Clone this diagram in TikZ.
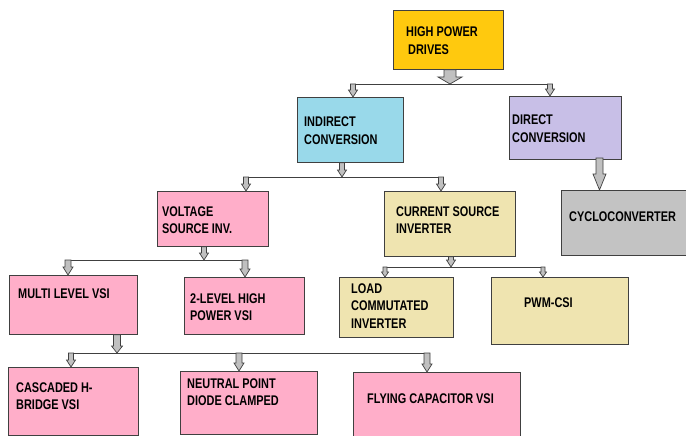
\documentclass[tikz,border=0pt]{standalone}
\usepackage{fontspec}
\newfontfamily\labfont[FakeStretch=0.78]{Liberation Sans}
\usetikzlibrary{calc}
\definecolor{cgold}{HTML}{FFC90E}
\definecolor{cblue}{HTML}{99D9EA}
\definecolor{clav}{HTML}{C8BFE7}
\definecolor{cgray}{HTML}{C3C3C3}
\definecolor{cpink}{HTML}{FFAEC9}
\definecolor{ctan}{HTML}{EFE4B0}
\definecolor{cline}{HTML}{404040}
\definecolor{carrow}{HTML}{C0C0C0}
\tikzset{
  boxnode/.style={draw=cline, line width=0.8pt, rectangle, anchor=north west, inner sep=0pt},
  txt/.style={anchor=base west, inner sep=0pt, align=left, text=black,
    font=\labfont\bfseries\fontsize{14}{17.5}\selectfont},
  arrowshape/.style={fill=carrow, draw=cline, line width=0.7pt, line join=miter},
  busline/.style={draw=cline, line width=0.8pt},
}
\newcommand\blockarrow[5]{%
  \path[arrowshape] let \p1=(#1), \p2=(#2) in
    (\x1-#3,\y1) -- (\x1-#3,\y2+#5) -- (\x1-#4,\y2+#5) -- (\x1,\y2) --
    (\x1+#4,\y2+#5) -- (\x1+#3,\y2+#5) -- (\x1+#3,\y1) -- cycle;}
\begin{document}
\begin{tikzpicture}[x=1pt,y=-1pt]
\useasboundingbox (0,0) rectangle (686,436);
% boxes
\node[boxnode, fill=cgold, minimum width=110pt, minimum height=59pt] (hpd) at (393,10) {};
\node[boxnode, fill=cblue, minimum width=106pt, minimum height=65pt] (ind) at (297,97) {};
\node[boxnode, fill=clav, minimum width=112pt, minimum height=63pt] (dir) at (509,96) {};
\node[boxnode, fill=cgray, minimum width=125pt, minimum height=65pt] (cyc) at (561,190) {};
\node[boxnode, fill=cpink, minimum width=111pt, minimum height=55pt] (vsi) at (157,191) {};
\node[boxnode, fill=ctan, minimum width=131pt, minimum height=65pt] (csi) at (384,191) {};
\node[boxnode, fill=cpink, minimum width=128pt, minimum height=59pt] (mlv) at (9,275) {};
\node[boxnode, fill=cpink, minimum width=120pt, minimum height=57pt] (tlv) at (184,277) {};
\node[boxnode, fill=ctan, minimum width=114pt, minimum height=60pt] (lci) at (339,277) {};
\node[boxnode, fill=ctan, minimum width=137pt, minimum height=67pt] (pwm) at (491,277) {};
\node[boxnode, fill=cpink, minimum width=130pt, minimum height=68pt] (chb) at (8,367) {};
\node[boxnode, fill=cpink, minimum width=137pt, minimum height=63pt] (npc) at (180,371) {};
\node[boxnode, fill=cpink, minimum width=167pt, minimum height=64pt] (fcv) at (353,372) {};
% texts (anchor = baseline of last line)
\node[txt] (hpdt) at (406,54.5) {HIGH POWER\\\hspace{2pt}DRIVES};
\node[txt] (indt) at (304,144.5) {INDIRECT\\CONVERSION};
\node[txt] (dirt) at (512,142.5) {DIRECT\\CONVERSION};
\node[txt] (cyct) at (569,221) {CYCLOCONVERTER};
\node[txt] (vsit) at (162,233.5) {VOLTAGE\\SOURCE INV.};
\node[txt] (csit) at (396,233.5) {CURRENT SOURCE\\INVERTER};
\node[txt] (mlvt) at (18,298) {MULTI LEVEL VSI};
\node[txt] (tlvt) at (190,320.5) {2-LEVEL HIGH\\POWER VSI};
\node[txt] (lcit) at (351,328) {LOAD\\COMMUTATED\\INVERTER};
\node[txt] (pwmt) at (524,307) {PWM-CSI};
\node[txt] (chbt) at (16,409.5) {CASCADED H-\\BRIDGE VSI};
\node[txt] (npct) at (187,405.5) {NEUTRAL POINT\\DIODE CLAMPED};
\node[txt] (fcvt) at (367,403) {FLYING CAPACITOR VSI};
% level 1
\coordinate (b1) at (450,84);
\coordinate (b1l) at (353,84);
\coordinate (b1r) at (550,84);
\draw[busline] (b1l) -- (b1r);
\blockarrow{b1 |- hpd.south}{b1}{6pt}{12pt}{7pt}
\blockarrow{b1l}{b1l |- ind.north}{2.5pt}{4.5pt}{7pt}
\blockarrow{b1r}{b1r |- dir.north}{2.5pt}{4.5pt}{7pt}
% direct -> cyclo
\coordinate (dc) at (599.5,158);
\blockarrow{dc}{dc |- cyc.north}{3.5pt}{6.5pt}{16pt}
% level 2
\coordinate (b2) at (342,177);
\coordinate (b2l) at (246,177);
\coordinate (b2r) at (441,177);
\draw[busline] (b2l) -- (b2r);
\blockarrow{b2 |- ind.south}{b2}{2.5pt}{4.5pt}{7pt}
\blockarrow{b2l}{b2l |- vsi.north}{2.5pt}{4.5pt}{7pt}
\blockarrow{b2r}{b2r |- csi.north}{2.5pt}{4.5pt}{7pt}
% voltage source
\coordinate (b3) at (204,260);
\coordinate (b3l) at (68,260);
\coordinate (b3r) at (245,260);
\draw[busline] (b3l) -- (b3r);
\blockarrow{b3 |- vsi.south}{b3}{2.5pt}{4.5pt}{7pt}
\blockarrow{b3l}{b3l |- mlv.north}{3pt}{5pt}{8pt}
\blockarrow{b3r}{b3r |- tlv.north}{3pt}{5pt}{8pt}
% current source
\coordinate (b4) at (451,267);
\coordinate (b4l) at (385,267);
\coordinate (b4r) at (543,267);
\draw[busline] (b4l) -- (b4r);
\blockarrow{b4 |- csi.south}{b4}{2.5pt}{4.5pt}{7pt}
\blockarrow{b4l}{b4l |- lci.north}{2pt}{3.5pt}{5pt}
\blockarrow{b4r}{b4r |- pwm.north}{2pt}{3.5pt}{5pt}
% multilevel
\coordinate (b5) at (117,353);
\coordinate (b5l) at (71,353);
\coordinate (b5m) at (239,353);
\coordinate (b5r) at (427,353);
\draw[busline] (b5l) -- (b5r);
\blockarrow{b5 |- mlv.south}{b5}{3.5pt}{5.5pt}{7pt}
\blockarrow{b5l}{b5l |- chb.north}{2.5pt}{4.5pt}{7pt}
\blockarrow{b5m}{b5m |- npc.north}{3pt}{5pt}{8pt}
\blockarrow{b5r}{b5r |- fcv.north}{3pt}{5pt}{8pt}
\end{tikzpicture}
\end{document}
